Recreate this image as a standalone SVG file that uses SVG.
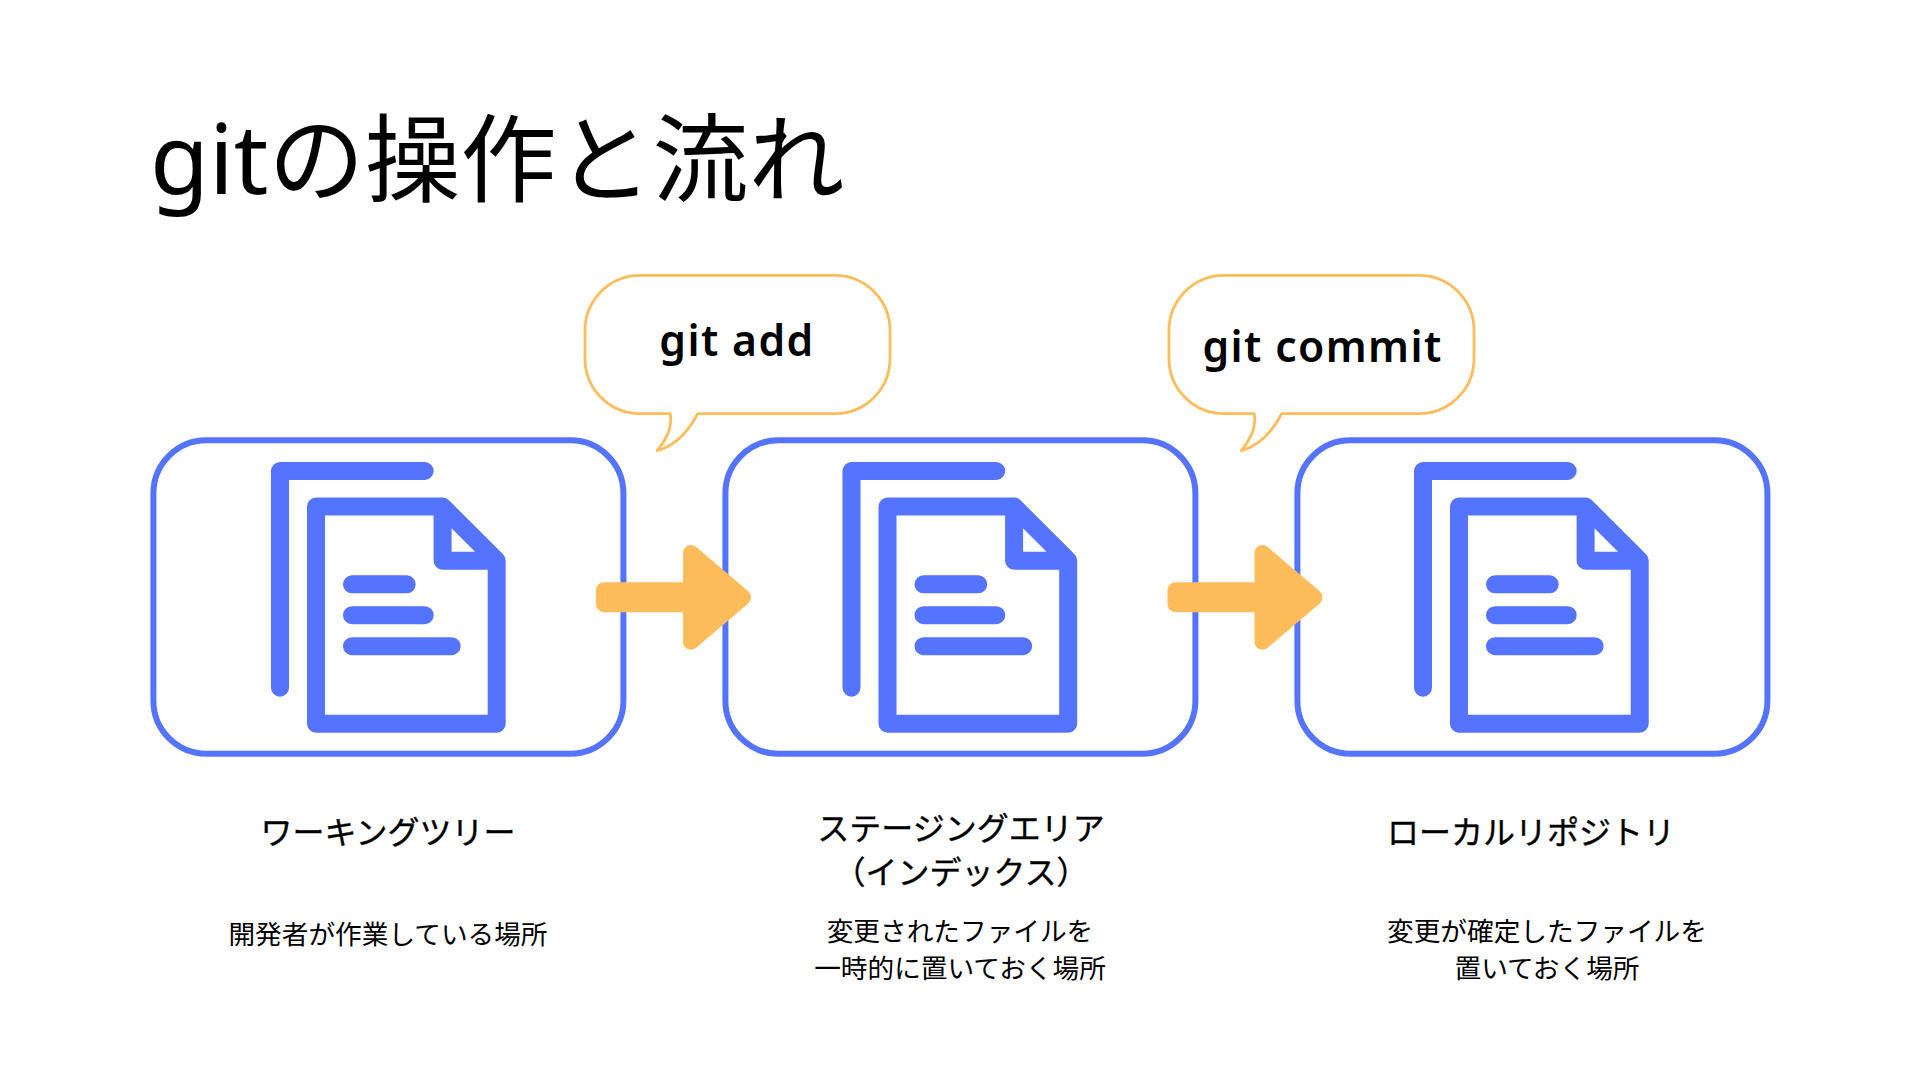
<svg xmlns="http://www.w3.org/2000/svg" width="1920" height="1080" viewBox="0 0 1920 1080">
<style>
text{font-family:"Noto Sans","Noto Sans CJK JP",sans-serif;fill:#000;text-anchor:middle}
.title{font-size:96px;text-anchor:start}
.label{font-size:32px;stroke:#000;stroke-width:.35px}
.desc{font-size:26.67px}
.cmd{font-size:42.67px;font-weight:600;letter-spacing:1.4px}
.box{fill:#fff;stroke:#5473ff;stroke-width:6}
.ic{fill:none;stroke:#5473ff;stroke-width:18;stroke-linecap:round;stroke-linejoin:round}
.arrow{fill:#ffbc5a;stroke:#ffbc5a;stroke-width:16;stroke-linejoin:round}
.bubble{fill:#fff;stroke:#ffbc5a;stroke-width:2.8;stroke-linejoin:round}
</style>
<defs>
<g id="doc">
<path class="ic" d="M280 687.7V471H424.7"/>
<path class="ic" d="M316 506.6H442.6L496.7 560.7V723.7H316ZM442.6 506.6V560.7H496.7M352 584.3H406.7M352 615.2H424.7M352 646.2H451.6"/>
</g>
<path id="arr" class="arrow" d="M604 590.2H691V553L743 597.3 691 641.7V604.2H604Z"/>
<path id="bub" class="bubble" d="M640 275.3H835A55 55 0 0 1 890 330.3V358.7A55 55 0 0 1 835 413.7H697.7Q682 444 657.3 450.7Q674 430 670 413.7H640A55 55 0 0 1 585 358.7V330.3A55 55 0 0 1 640 275.3Z"/>
</defs>
<rect width="1920" height="1080" fill="#fff"/>
<text id="title" class="title" x="150" y="194">gitの操作と流れ</text>
<g id="node-working">
<rect class="box" x="153.4" y="440.3" width="470" height="313.4" rx="53"/>
<use href="#doc"/>
<text class="label" x="388" y="844">ワーキングツリー</text>
<text class="desc" x="388" y="944">開発者が作業している場所</text>
</g>
<g id="node-staging">
<rect class="box" x="725.4" y="440.3" width="470" height="313.4" rx="53"/>
<use href="#doc" x="571.5"/>
<text class="label" x="961" y="840">ステージングエリア</text>
<text class="label" x="961" y="884">（インデックス）</text>
<text class="desc" x="960" y="941">変更されたファイルを</text>
<text class="desc" x="960" y="978">一時的に置いておく場所</text>
</g>
<g id="node-repo">
<rect class="box" x="1297.4" y="440.3" width="470" height="313.4" rx="53"/>
<use href="#doc" x="1143"/>
<text class="label" x="1531" y="844">ローカルリポジトリ</text>
<text class="desc" x="1547" y="941">変更が確定したファイルを</text>
<text class="desc" x="1547" y="978">置いておく場所</text>
</g>
<g id="connectors">
<use href="#arr"/>
<use href="#arr" x="571.5"/>
</g>
<g id="bubble-add">
<use href="#bub"/>
<text class="cmd" x="737" y="356">git add</text>
</g>
<g id="bubble-commit">
<use href="#bub" x="584"/>
<text class="cmd" x="1322.5" y="362">git commit</text>
</g>
</svg>
